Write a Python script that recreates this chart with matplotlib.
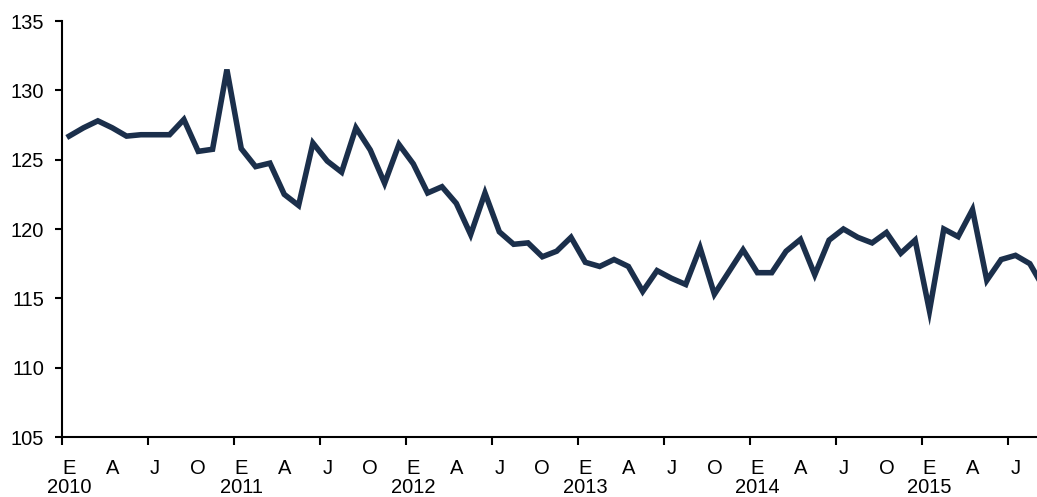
import matplotlib.pyplot as plt
import matplotlib.transforms as mtransforms
import numpy as np

plt.rcParams['font.family'] = ['Liberation Sans', 'DejaVu Sans']

# monthly index, Jan 2010 - Sep 2015
values = [126.7, 127.3, 127.8, 127.3, 126.7, 126.8, 126.8, 126.8, 127.9, 125.6, 125.75, 131.5,
          125.8, 124.5, 124.75, 122.5, 121.7, 126.2, 124.9, 124.1, 127.3, 125.7, 123.3, 126.1,
          124.7, 122.6, 123.05, 121.85, 119.6, 122.6, 119.8, 118.9, 119.0, 118.0, 118.4, 119.4,
          117.6, 117.3, 117.8, 117.3, 115.5, 117.0, 116.45, 116.0, 118.65, 115.3, 116.9, 118.5,
          116.85, 116.85, 118.4, 119.25, 116.7, 119.2, 120.0, 119.4, 119.0, 119.75, 118.25, 119.2,
          114.1, 120.0, 119.45, 121.4, 116.3, 117.8, 118.1, 117.5, 115.7]
month_letters = ['E', 'A', 'J', 'O']
years = ['2010', '2011', '2012', '2013', '2014', '2015']

x = np.arange(len(values))

fig = plt.figure(figsize=(10.37, 4.97), dpi=100)
ax = fig.add_axes([0.0598, 0.1207, 0.9402, 0.837])

ax.plot(x, values, color='#1B2F4B', lw=4, solid_joinstyle='miter')

ax.set_xlim(-0.5, 67.5)
ax.set_ylim(105, 135)
ax.set_yticks(np.arange(105, 136, 5))

# tick marks at year / half-year boundaries
ax.set_xticks(np.arange(-0.5, 67.5, 6))
ax.set_xticklabels([])
# month labels every quarter
lab_pos = np.arange(0, 68, 3)
ax.set_xticks(lab_pos, minor=True)
ax.set_xticklabels([month_letters[k % 4] for k in range(len(lab_pos))], minor=True, fontsize=14.5)
ax.tick_params(axis='x', which='minor', length=0, pad=16)
ax.tick_params(axis='x', which='major', length=6, width=1.5, direction='out')
ax.tick_params(axis='y', length=5, width=1.5, direction='out', labelsize=14.5, pad=8)

# year labels under each January
trans = mtransforms.blended_transform_factory(ax.transData, ax.transAxes)
for k, yr in enumerate(years):
    ax.text(k * 12, -0.1215, yr, transform=trans, ha='center', va='center', fontsize=14.5)

for s in ['top', 'right']:
    ax.spines[s].set_visible(False)
for s in ['left', 'bottom']:
    ax.spines[s].set_linewidth(1.5)
    ax.spines[s].set_color('black')

fig.savefig('out.png', dpi=100)
